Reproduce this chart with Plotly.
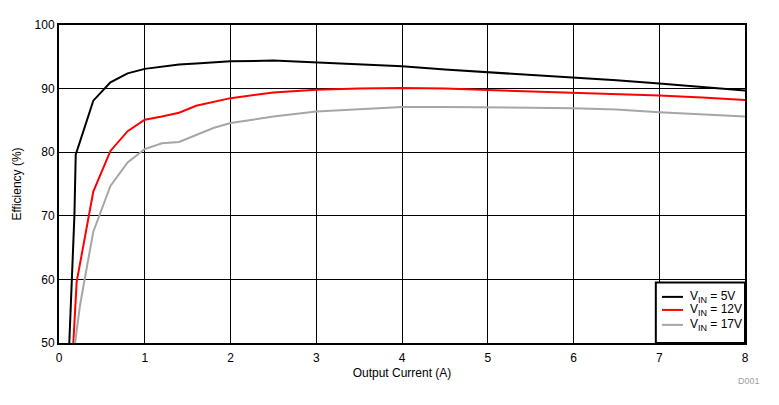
import plotly.graph_objects as go

# Output current (A) and efficiency (%) for each input voltage
i_5v = [0.12, 0.14, 0.155, 0.167, 0.18, 0.195, 0.4, 0.6, 0.8, 1.0, 1.2, 1.4, 1.6, 1.8, 2.0, 2.5, 3.0, 3.5, 4.0, 4.5, 5.0, 5.5, 6.0, 6.5, 7.0, 7.5, 8.0]
eff_5v = [50.0, 55.9, 60.7, 65.4, 70.1, 79.6, 88.1, 91.0, 92.4, 93.1, 93.5, 93.8, 93.95, 94.1, 94.3, 94.4, 94.1, 93.9, 93.5, 93.0, 92.6, 92.2, 91.7, 91.3, 90.8, 90.3, 89.7]

i_12v = [0.167, 0.187, 0.206, 0.4, 0.6, 0.8, 1.0, 1.2, 1.4, 1.6, 1.8, 2.0, 2.5, 3.0, 3.5, 4.0, 4.5, 5.0, 5.5, 6.0, 6.5, 7.0, 7.5, 8.0]
eff_12v = [50.0, 55.9, 59.6, 73.8, 80.2, 83.3, 85.1, 85.6, 86.2, 87.3, 87.9, 88.5, 89.4, 89.8, 90.0, 90.1, 90.0, 89.8, 89.6, 89.4, 89.1, 88.9, 88.6, 88.2]

i_17v = [0.187, 0.245, 0.30, 0.4, 0.6, 0.8, 1.0, 1.2, 1.4, 1.6, 1.8, 2.0, 2.5, 3.0, 3.5, 4.0, 4.5, 5.0, 5.5, 6.0, 6.5, 7.0, 7.5, 8.0]
eff_17v = [50.0, 55.9, 60.1, 67.5, 74.7, 78.4, 80.5, 81.4, 81.6, 82.7, 83.8, 84.6, 85.6, 86.4, 86.8, 87.1, 87.1, 87.1, 87.0, 86.9, 86.7, 86.3, 86.0, 85.6]

series_labels = ["5V", "12V", "17V"]
series_x = [i_5v, i_12v, i_17v]
series_y = [eff_5v, eff_12v, eff_17v]
series_colors = ["#000000", "#ff0000", "#a6a6a6"]

FONT = "Liberation Sans, Arial, sans-serif"
font = dict(family=FONT, size=12, color="#000000")

def vin_name(v):
    return "V<sub><span style='font-size:9px'>IN</span></sub> = " + v

fig = go.Figure()
for lab, x, y, c in zip(series_labels, series_x, series_y, series_colors):
    fig.add_trace(go.Scatter(x=x, y=y, mode="lines", name="VIN = " + lab,
                             line=dict(color=c, width=2), showlegend=False))

fig.update_layout(
    width=771, height=397,
    margin=dict(l=51, r=34, t=17, b=62, autoexpand=False),
    paper_bgcolor="white", plot_bgcolor="white",
    font=font,
    showlegend=False,
    xaxis=dict(range=[0, 8], dtick=1, tick0=0, showgrid=True, gridcolor="black", gridwidth=1,
               showline=True, linecolor="black", linewidth=2, mirror=True, zeroline=False,
               ticks="", ticklen=0, automargin=False, ticklabelstandoff=3,
               title=dict(text="Output Current (A)", standoff=4, font=font)),
    yaxis=dict(range=[50, 100], dtick=10, tick0=50, showgrid=True, gridcolor="black", gridwidth=1,
               showline=True, linecolor="black", linewidth=2, mirror=True, zeroline=False,
               ticks="", ticklen=0, automargin=False,
               title=dict(text="Efficiency (%)", standoff=10, font=font)),
)

# custom legend box (bottom-right, inside plot)
fig.add_shape(type="rect", xref="paper", yref="paper", x0=0.870, x1=1.0, y0=0.0, y1=0.190,
              line=dict(color="black", width=2), fillcolor="white", layer="above")
legend_rows = [0.145, 0.104, 0.057]
for lab, c, yy in zip(series_labels, series_colors, legend_rows):
    fig.add_shape(type="line", xref="paper", yref="paper", x0=0.879, x1=0.9096, y0=yy, y1=yy,
                  line=dict(color=c, width=2), layer="above")
    fig.add_annotation(text=vin_name(lab), xref="paper", yref="paper", x=0.9185, y=yy,
                       xanchor="left", yanchor="middle", showarrow=False,
                       font=font, borderpad=0)

fig.add_annotation(text="D001", xref="paper", yref="paper", x=1.025, y=-0.097,
                   xanchor="right", yanchor="top", showarrow=False,
                   font=dict(family=FONT, size=9, color="#a0a0a0"))

fig.write_html("out.html")
